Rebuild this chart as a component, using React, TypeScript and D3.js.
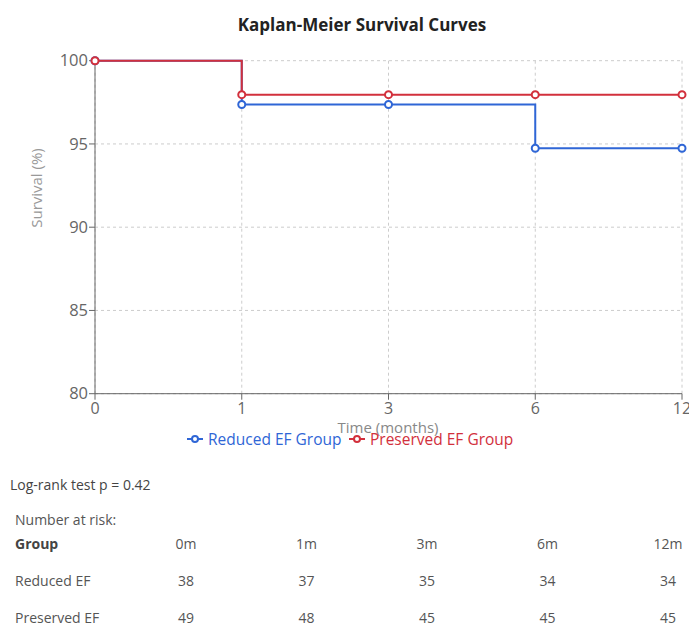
import React from "react";
import * as d3 from "d3";

const timeLabels = ["0", "1", "3", "6", "12"];
const reducedSurvival = [100, 97.37, 97.37, 94.74, 94.74];
const preservedSurvival = [100, 97.96, 97.96, 97.96, 97.96];
const yTicks = [80, 85, 90, 95, 100];
const seriesNames = ["Reduced EF Group", "Preserved EF Group"];
const riskHeaders = ["0m", "1m", "3m", "6m", "12m"];
const riskGroups = ["Reduced EF", "Preserved EF"];
const reducedRisk = [38, 37, 35, 34, 34];
const preservedRisk = [49, 48, 45, 45, 45];

const W = 689;
const H = 627;
const FONT = "'Open Sans', 'Noto Sans', sans-serif";
const BLUE = "#2f66d6";
const RED = "#d2303c";

export default function App() {
  const left = 95, right = 682, top = 60.7, bottom = 393.7;
  const x = d3.scalePoint<string>().domain(timeLabels).range([left, right]);
  const y = d3.scaleLinear().domain([80, 100]).range([bottom, top]);
  const line = d3
    .line<number>()
    .x((_, i) => x(timeLabels[i]) as number)
    .y((d) => y(d))
    .curve(d3.curveStepAfter);

  const series = [
    { name: seriesNames[0], values: reducedSurvival, color: BLUE },
    { name: seriesNames[1], values: preservedSurvival, color: RED },
  ];

  const colX = d3.scalePoint<string>().domain(riskHeaders).range([186, 668]);
  const riskRows = [reducedRisk, preservedRisk];

  return (
    <svg
      width={W}
      height={H}
      style={{ position: "absolute", left: 0, top: 0, fontFamily: FONT }}
    >
      <rect width={W} height={H} fill="#fff" />
      <text x={362} y={31} textAnchor="middle" fontSize={17} fontWeight="bold" fill="#222">
        Kaplan-Meier Survival Curves
      </text>

      {/* grid */}
      <g stroke="#ccc" strokeDasharray="3 3" strokeWidth={1}>
        {yTicks.map((t) => (
          <line key={"gy" + t} x1={left} x2={right} y1={y(t)} y2={y(t)} />
        ))}
        {timeLabels.map((t) => (
          <line key={"gx" + t} x1={x(t)} x2={x(t)} y1={top} y2={bottom} />
        ))}
      </g>

      {/* y axis */}
      <line x1={left} x2={left} y1={top} y2={bottom} stroke="#666" />
      {yTicks.map((t) => (
        <g key={"yt" + t}>
          <line x1={left - 6} x2={left} y1={y(t)} y2={y(t)} stroke="#666" />
          <text x={left - 7} y={y(t)} dy="0.35em" textAnchor="end" fontSize={16.5} fill="#666">
            {t}
          </text>
        </g>
      ))}
      <text
        transform={`translate(42,188) rotate(-90)`}
        textAnchor="middle"
        fontSize={15}
        fill="#999"
      >
        Survival (%)
      </text>

      {/* x axis */}
      <line x1={left} x2={right} y1={bottom} y2={bottom} stroke="#666" />
      {timeLabels.map((t) => (
        <g key={"xt" + t}>
          <line x1={x(t)} x2={x(t)} y1={bottom} y2={bottom + 6} stroke="#666" />
          <text x={x(t)} y={bottom + 20} textAnchor="middle" fontSize={16} fill="#666">
            {t}
          </text>
        </g>
      ))}
      <text x={388} y={433} textAnchor="middle" fontSize={15} fill="#888">
        Time (months)
      </text>

      {/* lines */}
      {series.map((s) => (
        <g key={s.name}>
          <path d={line(s.values) || ""} fill="none" stroke={s.color} strokeWidth={2} />
          {s.values.map((v, i) => (
            <circle
              key={i}
              cx={x(timeLabels[i])}
              cy={y(v)}
              r={3.5}
              fill="#fff"
              stroke={s.color}
              strokeWidth={2}
            />
          ))}
        </g>
      ))}

      {/* legend */}
      {series.map((s, i) => {
        const lx = i === 0 ? 187 : 349;
        return (
          <g key={"lg" + s.name}>
            <line x1={lx} x2={lx + 16} y1={439} y2={439} stroke={s.color} strokeWidth={2} />
            <circle cx={lx + 8} cy={439} r={3} fill="#fff" stroke={s.color} strokeWidth={2} />
            <text x={lx + 21} y={444.5} fontSize={15.5} fill={s.color}>
              {s.name}
            </text>
          </g>
        );
      })}

      {/* stats */}
      <text x={10} y={490} fontSize={14} fill="#444">
        Log-rank test p = 0.42
      </text>
      <text x={15} y={525} fontSize={14} fill="#555">
        Number at risk:
      </text>
      <text x={15} y={549} fontSize={14} fill="#444" fontWeight="bold">
        Group
      </text>
      {riskHeaders.map((h) => (
        <text key={h} x={colX(h)} y={549} fontSize={14} fill="#555" textAnchor="middle">
          {h}
        </text>
      ))}
      {riskGroups.map((g, r) => (
        <g key={g}>
          <text x={15} y={586 + r * 37} fontSize={14} fill="#555">
            {g}
          </text>
          {riskRows[r].map((v, i) => (
            <text
              key={i}
              x={colX(riskHeaders[i])}
              y={586 + r * 37}
              fontSize={14}
              fill="#555"
              textAnchor="middle"
            >
              {v}
            </text>
          ))}
        </g>
      ))}
    </svg>
  );
}
